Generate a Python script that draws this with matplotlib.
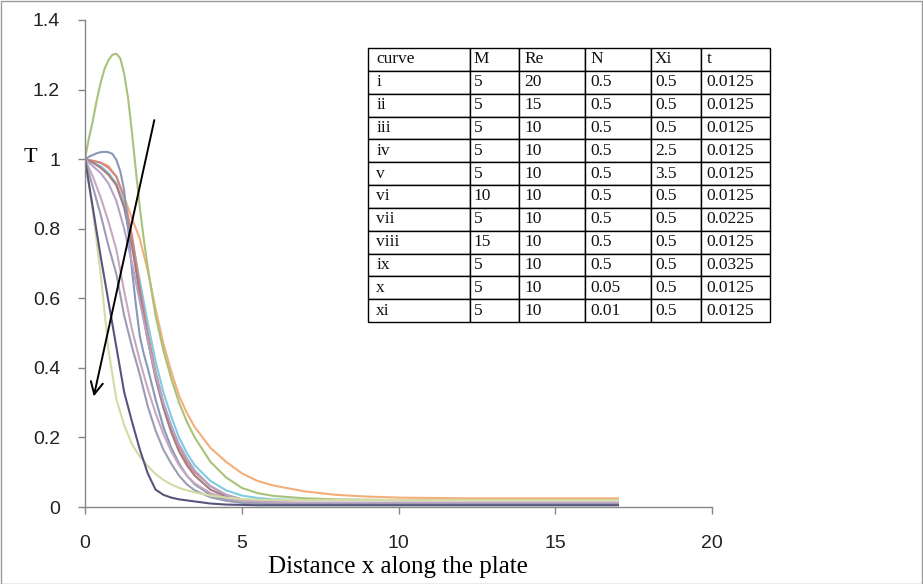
import matplotlib
matplotlib.use("Agg")
import matplotlib.pyplot as plt
from matplotlib.patches import Rectangle

# ---------------- data ----------------
x = [0, 0.25, 0.5, 0.75, 1.0, 1.25, 1.5, 1.75, 2.0, 2.25, 2.5, 2.75, 3.0, 3.25, 3.5,
     4.0, 4.5, 5.0, 5.5, 6, 7, 8, 9, 10, 12, 14, 17]
x_fine = [0, 0.125, 0.25, 0.375, 0.5, 0.625, 0.75, 0.875, 1.0, 1.125, 1.25, 1.375, 1.5, 1.625, 1.75, 1.875,
          2.0, 2.25, 2.5, 2.75, 3.0, 3.25, 3.5, 4.0, 4.5, 5.0, 5.5, 6, 7, 8, 9, 10, 12, 14, 17]

t_green = [1.0, 1.06, 1.11, 1.17, 1.22, 1.26, 1.285, 1.3, 1.303, 1.29, 1.245, 1.175, 1.075, 0.965, 0.86, 0.77,
           0.69, 0.55, 0.45, 0.37, 0.30, 0.245, 0.2, 0.13, 0.085, 0.055, 0.04, 0.032, 0.025, 0.022, 0.021, 0.02,
           0.02, 0.02, 0.02]
t_bluegray = [1.0, 1.007, 1.012, 1.017, 1.02, 1.021, 1.02, 1.015, 0.998, 0.965, 0.91, 0.8, 0.68, 0.58, 0.49, 0.44,
              0.40, 0.31, 0.23, 0.17, 0.125, 0.09, 0.065, 0.035, 0.022, 0.016, 0.013, 0.012, 0.011, 0.01, 0.01,
              0.01, 0.01, 0.01, 0.01]
t_red = [1.0, 0.995, 0.99, 0.975, 0.95, 0.89, 0.78, 0.63, 0.50, 0.39, 0.30, 0.23, 0.175, 0.13, 0.10,
         0.06, 0.035, 0.022, 0.016, 0.013, 0.012, 0.012, 0.012, 0.012, 0.012, 0.012, 0.012]
t_cyan = [1.0, 0.99, 0.98, 0.96, 0.93, 0.87, 0.77, 0.65, 0.53, 0.42, 0.33, 0.26, 0.20, 0.155, 0.12,
          0.075, 0.048, 0.033, 0.026, 0.022, 0.02, 0.02, 0.02, 0.02, 0.02, 0.02, 0.02]
t_brown = [1.0, 0.99, 0.975, 0.955, 0.925, 0.86, 0.75, 0.61, 0.48, 0.37, 0.285, 0.215, 0.16, 0.12, 0.09,
           0.05, 0.03, 0.018, 0.012, 0.01, 0.008, 0.008, 0.008, 0.008, 0.008, 0.008, 0.008]
t_lavender = [1.0, 0.98, 0.96, 0.93, 0.88, 0.80, 0.70, 0.59, 0.48, 0.38, 0.30, 0.235, 0.18, 0.14, 0.105,
              0.06, 0.035, 0.022, 0.016, 0.013, 0.012, 0.012, 0.012, 0.012, 0.012, 0.012, 0.012]
t_orange = [1.0, 0.995, 0.99, 0.98, 0.95, 0.89, 0.83, 0.77, 0.68, 0.57, 0.47, 0.39, 0.32, 0.27, 0.23,
            0.17, 0.13, 0.097, 0.075, 0.062, 0.045, 0.035, 0.03, 0.027, 0.025, 0.025, 0.025]
t_navy = [1.0, 0.86, 0.72, 0.59, 0.46, 0.33, 0.245, 0.165, 0.097, 0.05, 0.035, 0.027, 0.022, 0.019, 0.016,
          0.01, 0.007, 0.006, 0.005, 0.005, 0.005, 0.005, 0.005, 0.005, 0.005, 0.005, 0.005]
t_lightyellow = [1.0, 0.85, 0.67, 0.45, 0.31, 0.235, 0.18, 0.145, 0.118, 0.095, 0.078, 0.065, 0.055, 0.048, 0.042,
                 0.033, 0.027, 0.023, 0.021, 0.02, 0.02, 0.02, 0.02, 0.02, 0.02, 0.02, 0.02]
t_gray = [1.0, 0.92, 0.84, 0.75, 0.67, 0.55, 0.46, 0.38, 0.29, 0.22, 0.165, 0.125, 0.09, 0.065, 0.048,
          0.028, 0.018, 0.012, 0.01, 0.008, 0.008, 0.008, 0.008, 0.008, 0.008, 0.008, 0.008]
t_pink = [1.0, 0.95, 0.89, 0.82, 0.74, 0.62, 0.51, 0.42, 0.34, 0.27, 0.21, 0.16, 0.12, 0.09, 0.068,
          0.04, 0.025, 0.017, 0.013, 0.011, 0.01, 0.01, 0.01, 0.01, 0.01, 0.01, 0.01]

series = [(x, t_orange), (x_fine, t_green), (x, t_cyan), (x, t_red), (x, t_brown), (x_fine, t_bluegray),
          (x, t_lavender), (x, t_pink), (x, t_gray), (x, t_lightyellow), (x, t_navy)]
colors = ["#F4AE7A", "#A9C27A", "#7FCBE0", "#D48683", "#A87C7C", "#8898B8", "#B4A4CC", "#C8A8C0",
          "#9C9CB4", "#D4DBA4", "#55557E"]

table_cols = ["curve", "M", "Re", "N", "Xi", "t"]
table_curve = ["i", "ii", "iii", "iv", "v", "vi", "vii", "viii", "ix", "x", "xi"]
table_M = ["5", "5", "5", "5", "5", "10", "5", "15", "5", "5", "5"]
table_Re = ["20", "15", "10", "10", "10", "10", "10", "10", "10", "10", "10"]
table_N = ["0.5", "0.5", "0.5", "0.5", "0.5", "0.5", "0.5", "0.5", "0.5", "0.05", "0.01"]
table_Xi = ["0.5", "0.5", "0.5", "2.5", "3.5", "0.5", "0.5", "0.5", "0.5", "0.5", "0.5"]
table_t = ["0.0125", "0.0125", "0.0125", "0.0125", "0.0125", "0.0125", "0.0225", "0.0125", "0.0325", "0.0125", "0.0125"]

x_ticks = [0, 5, 10, 15, 20]
y_ticks = [0, 0.2, 0.4, 0.6, 0.8, 1.0, 1.2, 1.4]
y_ticklabels = ["0", "0.2", "0.4", "0.6", "0.8", "1", "1.2", "1.4"]

# ---------------- figure ----------------
W, H = 923, 584
fig = plt.figure(figsize=(W / 100, H / 100), dpi=100)
fig.patch.set_facecolor("white")
fig.patches.append(Rectangle((0.5 / W, 0.5 / H), 1 - 1.5 / W, 1 - 1.5 / H, transform=fig.transFigure,
                             fill=False, edgecolor="#9a9a9a", linewidth=1.0))

ax = fig.add_axes([85 / W, 1 - 507 / H, (712 - 85) / W, (507 - 20) / H])
for (xs, s), c in zip(series, colors):
    ax.plot(xs, s, color=c, linewidth=1.5, solid_joinstyle="round")

ax.set_xlim(0, 20)
ax.set_ylim(0, 1.4)
ax.set_xticks(x_ticks)
ax.set_yticks(y_ticks)
ax.set_yticklabels(y_ticklabels)
for sp in ["top", "right"]:
    ax.spines[sp].set_visible(False)
for sp in ["left", "bottom"]:
    ax.spines[sp].set_color("#868686")
    ax.spines[sp].set_linewidth(1.0)
ax.tick_params(axis="both", colors="#868686", length=5, width=1.0, labelcolor="#222222",
               labelsize=14)
ax.tick_params(axis="x", pad=15)
ax.tick_params(axis="y", pad=13)
for lab in ax.get_xticklabels() + ax.get_yticklabels():
    lab.set_family("Liberation Sans")

fig.text(398 / W, 1 - 567 / H, "Distance x along the plate", family="Liberation Serif", fontsize=18,
         ha="center", va="center")
fig.text(30 / W, 1 - 157 / H, "T", family="Liberation Serif", fontsize=16, ha="center", va="center")

# arrow
ax.annotate("", xy=(0.26, 0.31), xytext=(2.23, 1.12),
            arrowprops=dict(arrowstyle="->", color="black", lw=1.4, mutation_scale=22))

# table
cells = [list(r) for r in zip(table_curve, table_M, table_Re, table_N, table_Xi, table_t)]
tbl = ax.table(cellText=cells, colLabels=table_cols, cellLoc="left", colLoc="left",
               bbox=[(368 - 85) / (712 - 85), (507 - 322) / (507 - 20), 402 / (712 - 85), 274 / (507 - 20)],
               colWidths=[102, 49, 66, 66, 50, 69])
tbl.auto_set_font_size(False)
tbl.set_fontsize(12.5)
for (r, c), cell in tbl.get_celld().items():
    cell.set_edgecolor("black")
    cell.set_linewidth(1.0)
    cell.set_facecolor("white")
    cell.PAD = 0.08
    cell.set_text_props(family="Liberation Serif", fontsize=12.5, color="#111111")

fig.savefig("out.png", dpi=100)
